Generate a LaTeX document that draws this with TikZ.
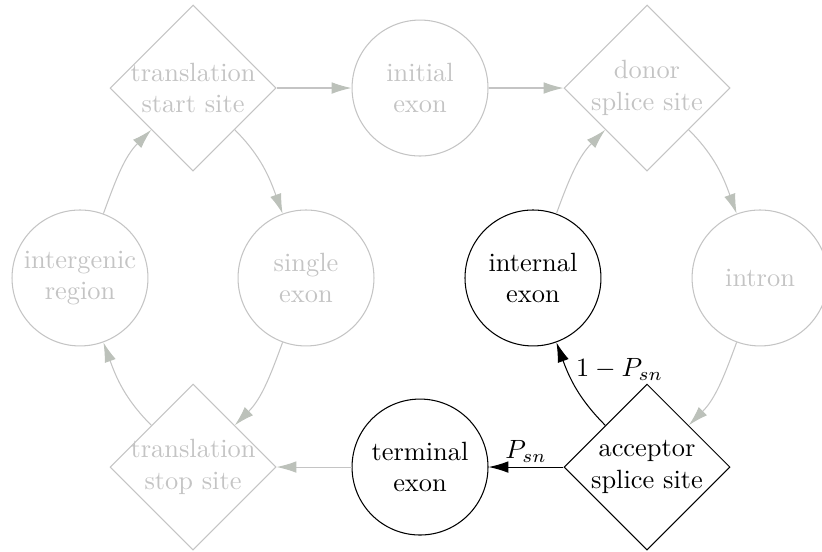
\documentclass[tikz,border=0pt]{standalone}
\usepackage{amsmath}
\usetikzlibrary{shapes.geometric,arrows.meta}
\definecolor{hmm_grey}{RGB}{196,196,196}
\definecolor{hmm_tip}{RGB}{188,193,186}
\tikzstyle{en}=[circle,draw=black,align=center,inner sep=0pt,
  minimum size=1.81cm]
\tikzstyle{sn}=[diamond,draw=black,align=center,inner sep=-3pt,
  minimum width=2.21cm,minimum height=2.21cm]
\tikzstyle{faded}=[draw=hmm_grey,text=hmm_grey]
\tikzstyle{tr}=[-{Latex[length=7.5pt,width=4.4pt]}]
\tikzstyle{ftr}=[draw=hmm_grey,-{Latex[length=7.5pt,width=4.4pt,color=hmm_tip]}]

\begin{document}
\begin{tikzpicture}
    \useasboundingbox (0,0) rectangle (10.944,7.336);
    \node [style=sn,faded] (tss) at (2.570,6.164) {translation\\start site};
    \node [style=en,faded] (ie) at (5.592,6.164) {initial\\exon};
    \node [style=sn,faded] (dss) at (8.614,6.164) {donor\\splice site};
    \node [style=en,faded] (ir) at (1.065,3.635) {intergenic\\region};
    \node [style=en,faded] (se) at (4.074,3.635) {single\\exon};
    \node [style=en] (ne) at (7.096,3.635) {internal\\exon};
    \node [style=en,faded] (in) at (10.119,3.635) {intron};
    \node [style=sn,faded] (tts) at (2.570,1.118) {translation\\stop site};
    \node [style=en] (te) at (5.592,1.118) {terminal\\exon};
    \node [style=sn] (ass) at (8.614,1.118) {acceptor\\splice site};
    \draw [style=ftr] (tss) to (ie);
    \draw [style=ftr] (ie) to (dss);
    \draw [style=ftr,out=-45,in=110] (dss) to (in);
    \draw [style=ftr,out=-110,in=45] (in) to (ass);
    \draw [style=ftr,out=70,in=-135] (ne) to (dss);
    \draw [style=ftr,out=-45,in=110] (tss) to (se);
    \draw [style=ftr,out=-110,in=45] (se) to (tts);
    \draw [style=ftr,out=135,in=-70] (tts) to (ir);
    \draw [style=ftr,out=70,in=-135] (ir) to (tss);
    \draw [style=ftr] (te) to (tts);
    \draw [style=tr,out=135,in=-70] (ass) to node [pos=0.72,right] {\(1-P_{sn}\)} (ne);
    \draw [style=tr] (ass) to node [pos=0.5,above,inner sep=1.5pt] {\(P_{sn}\)} (te);
\end{tikzpicture}
\end{document}
